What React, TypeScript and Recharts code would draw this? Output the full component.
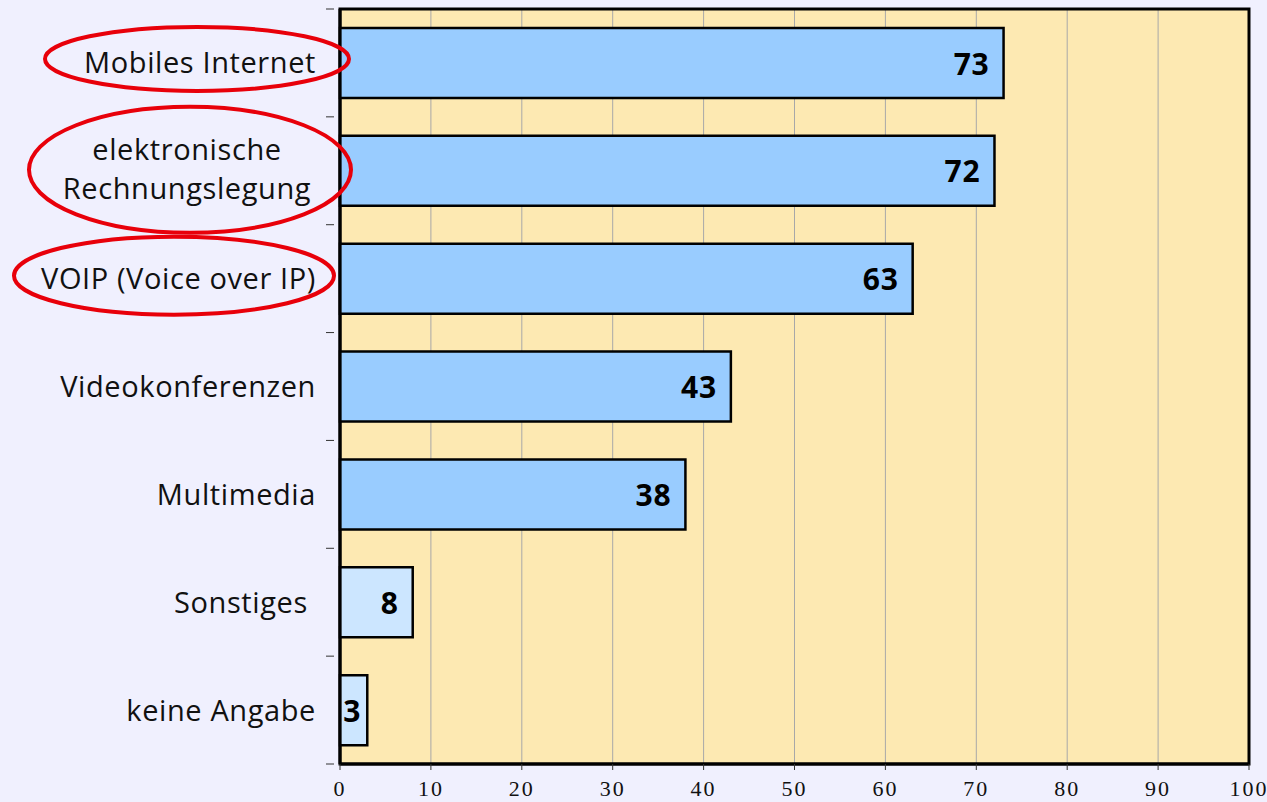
import React from 'react';
import {
  BarChart,
  Bar,
  XAxis,
  YAxis,
  CartesianGrid,
  Cell,
  LabelList,
  ReferenceArea,
} from 'recharts';

const categories = [
  'Mobiles Internet',
  'elektronische Rechnungslegung',
  'VOIP (Voice over IP)',
  'Videokonferenzen',
  'Multimedia',
  'Sonstiges ',
  'keine Angabe',
];
const values = [73, 72, 63, 43, 38, 8, 3];
const xTicks = [0, 10, 20, 30, 40, 50, 60, 70, 80, 90, 100];
const highlighted = ['Mobiles Internet', 'elektronische Rechnungslegung', 'VOIP (Voice over IP)'];
const lightBars = ['Sonstiges ', 'keine Angabe'];

const data = categories.map((name, i) => ({ name, value: values[i] }));

const W = 1267;
const H = 802;
const TOP = 9;
const BOTTOM = 38;
const BAND = (H - TOP - BOTTOM) / categories.length;
const LABEL_FONT = '"Open Sans", "DejaVu Sans", sans-serif';

// ellipse around highlighted labels: center x, dy from tick, rx, ry
const ellipses: Record<string, [number, number, number, number]> = {
  'Mobiles Internet': [197, -4, 152, 32],
  'elektronische Rechnungslegung': [190, -1, 161, 63],
  'VOIP (Voice over IP)': [174, -3, 160, 39],
};

const CategoryTick = (props: any) => {
  const { x, y, payload, index } = props;
  const label: string = payload.value;
  const ell = ellipses[label];
  const isLast = index === categories.length - 1;
  let text;
  if (label === 'elektronische Rechnungslegung') {
    text = (
      <text textAnchor="middle" fontSize={29} letterSpacing={0.6} fontFamily={LABEL_FONT} fill="#111">
        <tspan x={187} y={y - 22} dominantBaseline="central">elektronische</tspan>
        <tspan x={187} y={y + 17} dominantBaseline="central">Rechnungslegung</tspan>
      </text>
    );
  } else {
    text = (
      <text
        x={316}
        y={y - 1}
        textAnchor="end"
        dominantBaseline="central"
        fontSize={29}
        letterSpacing={0.6}
        fontFamily={LABEL_FONT}
        fill="#111"
        style={{ whiteSpace: 'pre' }}
      >
        {label}
      </text>
    );
  }
  return (
    <g>
      <line x1={x + 2 - 8} x2={x + 2} y1={y - BAND / 2} y2={y - BAND / 2} stroke="#333" strokeWidth={1} />
      {isLast && (
        <line x1={x + 2 - 8} x2={x + 2} y1={y + BAND / 2} y2={y + BAND / 2} stroke="#333" strokeWidth={1} />
      )}
      {text}
      {ell && highlighted.includes(label) && (
        <ellipse cx={ell[0]} cy={y + ell[1]} rx={ell[2]} ry={ell[3]} fill="none" stroke="#e8000a" strokeWidth={4} />
      )}
    </g>
  );
};

const ValueLabel = (props: any) => {
  const { x, y, width, height, value } = props;
  const pad = Math.min(14, width * 0.22);
  return (
    <text
      x={x + width - pad}
      y={y + height / 2}
      textAnchor="end"
      dominantBaseline="central"
      fontSize={30}
      fontWeight="bold"
      letterSpacing={0.8}
      fontFamily={LABEL_FONT}
      fill="#000"
    >
      {value}
    </text>
  );
};

const App = () => {
  return (
    <div style={{ position: 'absolute', left: 0, top: 0, width: W, height: H, background: '#f0f0fe' }}>
      <BarChart
        width={W}
        height={H}
        data={data}
        layout="vertical"
        margin={{ top: TOP, right: 18, bottom: 0, left: 0 }}
      >
        <CartesianGrid horizontal={false} stroke="#a8a8a8" fill="#fde9b2" fillOpacity={1} />
        <XAxis
          type="number"
          domain={[0, 100]}
          ticks={xTicks}
          height={BOTTOM}
          axisLine={{ stroke: '#000', strokeWidth: 3 }}
          tickLine={{ stroke: '#333' }}
          tickSize={6}
          tick={{ fontSize: 22, fontFamily: '"Liberation Serif", serif', fill: '#111', letterSpacing: 2, dy: 8 }}
          interval={0}
        />
        <YAxis
          type="category"
          dataKey="name"
          width={340}
          axisLine={{ stroke: '#000', strokeWidth: 3 }}
          tickLine={false}
          tick={<CategoryTick />}
          interval={0}
        />
        <ReferenceArea x1={0} x2={100} fill="none" stroke="#000" strokeWidth={3} />
        <Bar dataKey="value" barSize={70} stroke="#000" strokeWidth={2.5} isAnimationActive={false}>
          {data.map((d, i) => (
            <Cell key={`c-${i}`} fill={lightBars.includes(d.name) ? '#cce6ff' : '#99ccff'} />
          ))}
          <LabelList dataKey="value" content={<ValueLabel />} />
        </Bar>
      </BarChart>
    </div>
  );
};

export default App;
